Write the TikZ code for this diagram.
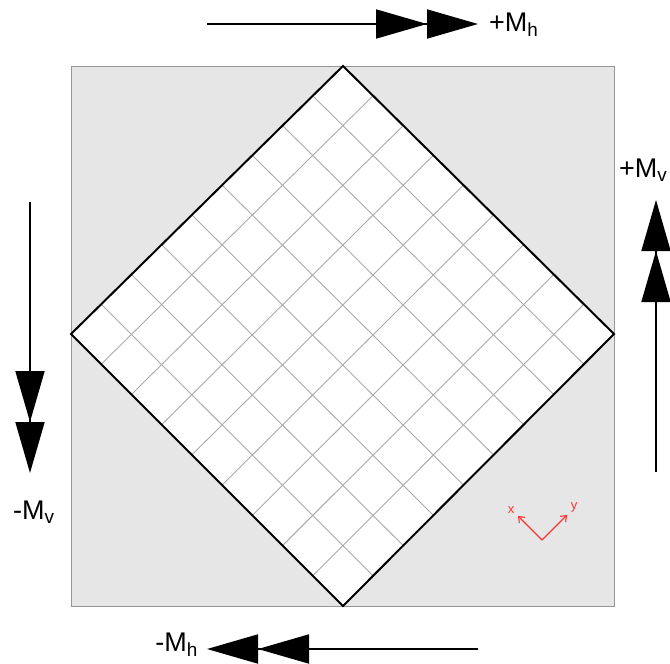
\documentclass[tikz,border=0pt]{standalone}
\usepackage{fontspec}
\setmainfont{Liberation Sans}
\usepackage{xcolor}
\usetikzlibrary{arrows.meta, positioning, calc}
\definecolor{panelgray}{RGB}{230, 230, 230}
\definecolor{framegray}{RGB}{150, 150, 150}
\definecolor{meshgray}{RGB}{170, 170, 170}
\definecolor{axisred}{RGB}{255, 50, 50}

\begin{document}
\begin{tikzpicture}[
  x=1pt, y=-1pt,
  moment/.style={line width=1.8pt, -{Triangle[length=51pt, width=29pt, sep=0pt] Triangle[length=51pt, width=29pt]}},
  lab/.style={font=\fontsize{27}{30}\selectfont, inner sep=0pt},
  axis/.style={axisred, line width=1.1pt, -{Straight Barb[length=5pt, width=8pt]}},
  axlab/.style={axisred, font=\fontsize{13}{14}\selectfont, inner sep=0pt}
]
\useasboundingbox (0,0) rectangle (670,664);

% plate and square domain
\fill[panelgray] (71,66) rectangle (614,606);
\draw[framegray, line width=1pt] (71,66) rectangle (614,606);

\coordinate (T) at (343,66);
\coordinate (R) at (614,334);
\coordinate (B) at (343,606);
\coordinate (L) at (71,334);

\fill[white] (L) -- (T) -- (R) -- (B) -- cycle;
\foreach \i in {1,...,8} {
  \draw[meshgray, line width=0.9pt] ($(L)!\i/9!(T)$) -- ($(B)!\i/9!(R)$);
  \draw[meshgray, line width=0.9pt] ($(L)!\i/9!(B)$) -- ($(T)!\i/9!(R)$);
}
\draw[black, line width=2pt, line join=miter] (L) -- (T) -- (R) -- (B) -- cycle;

% applied moments
\coordinate (mh1) at (207,24);
\coordinate (mh2) at (478,24);
\coordinate (mh3) at (478,649);
\coordinate (mh4) at (207,649);
\coordinate (mv1) at (656,472);
\coordinate (mv2) at (656,200);
\coordinate (mv3) at (30,202);
\coordinate (mv4) at (30,473);

\draw[moment] (mh1) -- (mh2);
\draw[moment] (mh3) -- (mh4);
\draw[moment] (mv1) -- (mv2);
\draw[moment] (mv3) -- (mv4);

\node[lab, anchor=west] (Mhp) at (489,25) {+M\textsubscript{h}};
\node[lab, anchor=east] (Mhm) at (198,645) {-M\textsubscript{h}};
\node[lab, anchor=west] (Mvp) at (619,170) {+M\textsubscript{v}};
\node[lab, anchor=west] (Mvm) at (13,512) {-M\textsubscript{v}};

% local axes
\coordinate (O) at (542,540);
\coordinate (ax) at (518,516);
\coordinate (ay) at (567,515);
\draw[axis] (O) -- (ax);
\draw[axis] (O) -- (ay);
\node[axlab] (xl) at (511,510) {x};
\node[axlab] (yl) at (574,507) {y};
\end{tikzpicture}
\end{document}
